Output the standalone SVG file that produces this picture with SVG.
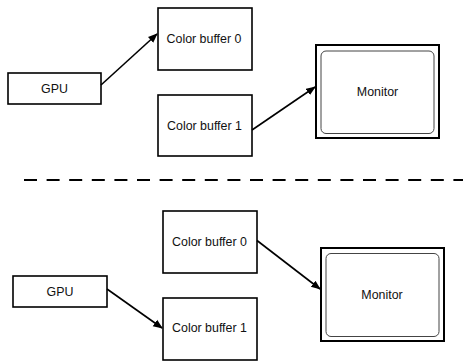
<svg xmlns="http://www.w3.org/2000/svg" width="463" height="362" viewBox="0 0 463 362">
<style>
.box{fill:#fff;stroke:#000;stroke-width:1.6}
.mon{fill:#fff;stroke:#000;stroke-width:2}
.inner{fill:none;stroke:#444;stroke-width:1}
.lbl{font-family:"Liberation Sans",Arial,sans-serif;font-size:12.4px;fill:#111;text-anchor:middle;dominant-baseline:central}
.edge{stroke:#000;stroke-width:1.6;fill:none;marker-end:url(#ah)}
</style>
<defs>
<marker id="ah" viewBox="0 0 10 10" refX="9" refY="5" markerWidth="6" markerHeight="6" orient="auto" markerUnits="strokeWidth">
<path d="M0,1 L10,5 L0,9 z" fill="#000"/>
</marker>
</defs>
<rect width="463" height="362" fill="#fff"/>
<g id="gpu1"><rect class="box" x="8" y="73" width="93" height="31"/><text class="lbl" x="54.5" y="89">GPU</text></g>
<g id="cb0a"><rect class="box" x="158" y="8" width="94" height="62"/><text class="lbl" x="204" y="39">Color buffer 0</text></g>
<g id="cb1a"><rect class="box" x="158" y="95" width="94" height="61"/><text class="lbl" x="204.5" y="125.5">Color buffer 1</text></g>
<g id="mon1"><rect class="mon" x="316" y="45" width="123" height="93"/><rect class="inner" x="321" y="51" width="113" height="82.5" rx="5"/><text class="lbl" x="377.5" y="91.5">Monitor</text></g>
<g id="gpu2"><rect class="box" x="13" y="276" width="94" height="31"/><text class="lbl" x="60" y="291.5">GPU</text></g>
<g id="cb0b"><rect class="box" x="163" y="211" width="94" height="62"/><text class="lbl" x="209.5" y="241.5">Color buffer 0</text></g>
<g id="cb1b"><rect class="box" x="163" y="298" width="94" height="62"/><text class="lbl" x="209.5" y="328">Color buffer 1</text></g>
<g id="mon2"><rect class="mon" x="321" y="248" width="123" height="93"/><rect class="inner" x="326" y="253.5" width="113" height="83" rx="5"/><text class="lbl" x="382" y="295">Monitor</text></g>
<g id="connectors">
<line class="edge" x1="101" y1="85" x2="157" y2="34"/>
<line class="edge" x1="252" y1="130" x2="315" y2="87"/>
<line class="edge" x1="107" y1="289" x2="162" y2="328"/>
<line class="edge" x1="257" y1="240.5" x2="320" y2="289"/>
<line x1="24" y1="180" x2="463" y2="180" stroke="#000" stroke-width="2" stroke-dasharray="13 9.6"/>
</g>
</svg>
